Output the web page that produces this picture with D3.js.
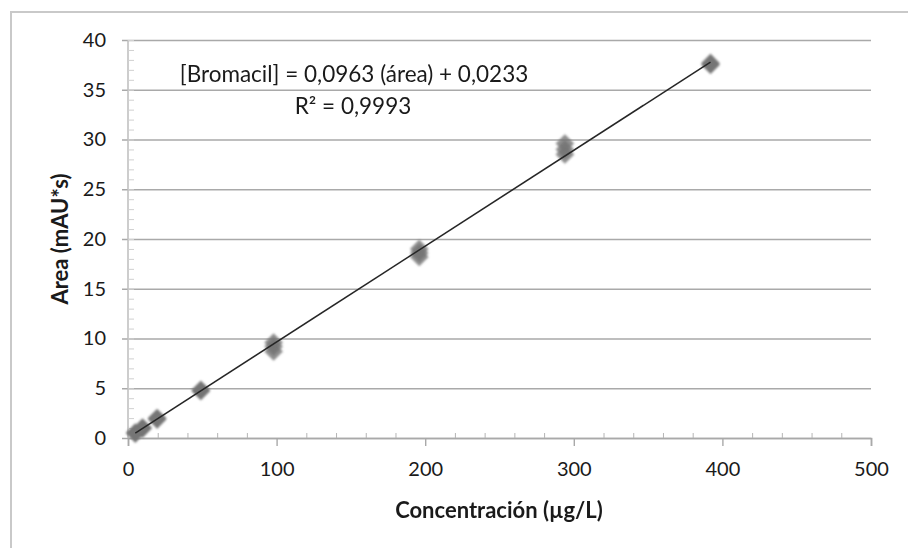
<!DOCTYPE html>
<html>
<head>
<meta charset="utf-8">
<script src="https://cdn.jsdelivr.net/npm/d3@7/dist/d3.min.js"></script>
<style>
  html, body { margin: 0; padding: 0; background: #fff; }
  svg { display: block; }
  text { font-family: Lato, "Open Sans", sans-serif; fill: #1a1a1a; }
</style>
</head>
<body>
<svg id="chart" width="908" height="548"></svg>
<script>
// Calibration data: concentration (µg/L) and replicate peak areas (mAU*s)
const concentrations = [4.9, 9.8, 19.6, 49, 98, 196, 294, 392];
const areaRep1 = [0.45, 0.95, 1.85, 4.7, 8.7, 18.2, 28.5, 37.5];
const areaRep2 = [0.55, 1.0, 1.95, 4.8, 9.2, 18.6, 29.0, 37.6];
const areaRep3 = [0.5, 1.05, 2.0, 4.85, 9.6, 19.0, 29.6, 37.7];
const xTicks = [0, 100, 200, 300, 400, 500];
const yTicks = [0, 5, 10, 15, 20, 25, 30, 35, 40];
const slope = 0.0963, intercept = 0.0233;
const equationText = "[Bromacil] = 0,0963 (área) + 0,0233";
const r2Text = "R² = 0,9993";
const xTitle = "Concentración (µg/L)";
const yTitle = "Area (mAU*s)";

const svg = d3.select("#chart");
const W = 908, H = 548;
const margin = {left: 128, top: 40, right: W - 871, bottom: H - 438};
const x = d3.scaleLinear().domain([0, 500]).range([margin.left, W - margin.right]);
const y = d3.scaleLinear().domain([0, 40]).range([H - margin.bottom, margin.top]);

// chart frame
svg.append("path")
  .attr("d", `M11,${H} L11,12 L${W},12`)
  .attr("fill", "none").attr("stroke", "#c9c9c9").attr("stroke-width", 2);

const grid = "#a9a9a9";

// horizontal gridlines with major ticks on the left
svg.append("g")
  .attr("transform", `translate(${x(0)},0)`)
  .call(d3.axisLeft(y).tickValues(yTicks).tickSize(-(x(500) - x(0))).tickPadding(22).tickFormat(d3.format("d")))
  .call(g => g.select(".domain").remove())
  .call(g => g.selectAll(".tick line").attr("stroke", grid).attr("stroke-width", 1.6).attr("x1", -6))
  .call(g => g.selectAll(".tick text").style("font-size", "20px").attr("fill", "#1a1a1a"));

// y axis line with minor ticks
svg.append("line").attr("x1", x(0)).attr("x2", x(0)).attr("y1", y(0)).attr("y2", y(40))
  .attr("stroke", "#bdbdbd").attr("stroke-width", 1.5);
svg.append("g")
  .attr("transform", `translate(${x(0)},0)`)
  .call(d3.axisRight(y).tickValues(d3.range(0, 41, 1)).tickSize(6).tickFormat(""))
  .call(g => g.select(".domain").remove())
  .call(g => g.selectAll(".tick line").attr("stroke", "#d0d0d0").attr("stroke-width", 1));

// x axis
svg.append("g")
  .attr("transform", `translate(0,${y(0)})`)
  .call(d3.axisBottom(x).tickValues(xTicks).tickSize(8).tickPadding(16))
  .call(g => g.select(".domain").attr("stroke", grid).attr("stroke-width", 1.6))
  .call(g => g.selectAll(".tick line").attr("stroke", grid).attr("stroke-width", 1.4))
  .call(g => g.selectAll(".tick text").style("font-size", "20px").attr("fill", "#1a1a1a"));
svg.append("g")
  .attr("transform", `translate(0,${y(0)})`)
  .call(d3.axisTop(x).tickValues(d3.range(20, 500, 20).filter(v => v % 100 !== 0)).tickSize(5).tickFormat(""))
  .call(g => g.select(".domain").remove())
  .call(g => g.selectAll(".tick line").attr("stroke", "#b5b5b5").attr("stroke-width", 1));

// soft look for markers
const defs = svg.append("defs");
defs.append("filter").attr("id", "soft").append("feGaussianBlur").attr("stdDeviation", 1.2);

// data markers: squares turned 45° (diamonds)
const pts = [];
[areaRep1, areaRep2, areaRep3].forEach(rep => rep.forEach((a, i) => pts.push({c: concentrations[i], a})));
const diamond = d3.symbol().type(d3.symbolSquare).size(175);
svg.append("g").attr("filter", "url(#soft)")
  .selectAll("path").data(pts).join("path")
  .attr("d", diamond)
  .attr("transform", d => `translate(${x(d.c)},${y(d.a)}) rotate(45)`)
  .attr("fill", "#747474").attr("fill-opacity", 0.8);

// linear trendline
const cMin = d3.min(concentrations), cMax = d3.max(concentrations);
svg.append("line")
  .attr("x1", x(cMin)).attr("y1", y(slope * cMin + intercept))
  .attr("x2", x(cMax)).attr("y2", y(slope * cMax + intercept))
  .attr("stroke", "#262626").attr("stroke-width", 1.6);

// equation label
svg.append("text").attr("x", 354).attr("y", 82).attr("text-anchor", "middle")
  .style("font-size", "22.5px").text(equationText);
svg.append("text").attr("x", 353).attr("y", 114).attr("text-anchor", "middle")
  .style("font-size", "22.5px").text(r2Text);

// axis titles
svg.append("text").attr("x", 499).attr("y", 518).attr("text-anchor", "middle")
  .style("font-size", "22px").style("font-weight", "bold").text(xTitle);
svg.append("text").attr("transform", `translate(68,${(y(0) + y(40)) / 2}) rotate(-90)`)
  .attr("text-anchor", "middle").style("font-size", "22px").style("font-weight", "bold").text(yTitle);
</script>
</body>
</html>
